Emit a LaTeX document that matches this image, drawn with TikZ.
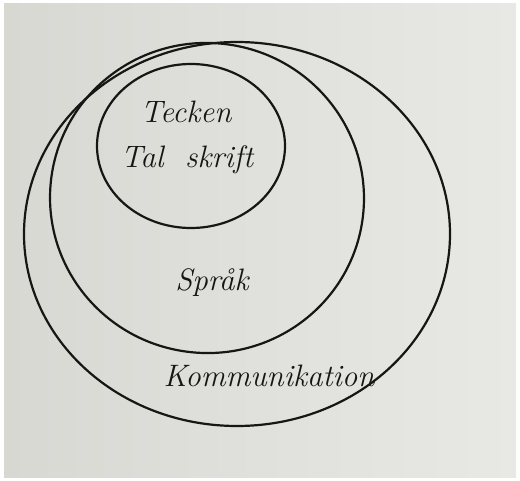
\documentclass[tikz,border=0pt]{standalone}
\usepackage{fontspec}
\usepackage{tikz}
\usetikzlibrary{
    calc,
    positioning,
    shapes.geometric
}
\definecolor{ink}{RGB}{22,22,20}
\definecolor{paperdark}{RGB}{216,216,211}
\definecolor{paperlight}{RGB}{232,232,229}
\tikzset{
    line cap=round,
    line join=round,
    ring/.style={
        ellipse,
        draw=ink,
        line width=2.2pt,
        inner sep=0pt
    },
    handtext/.style={
        font=\itshape\fontsize{31}{35}\selectfont,
        text=ink,
        anchor=base,
        inner sep=0pt
    }
}

\begin{document}
\begin{tikzpicture}[x=1pt, y=-1pt]

\useasboundingbox (0,0) rectangle (520,481);

% Paper
\fill[white] (0,0) rectangle (520,481);
\shade[left color=paperdark, right color=paperlight] (4,4) rectangle (516,477);

% Rings, outermost first
\node[ring, minimum width=426pt, minimum height=384pt] (kommring) at (237,234) {};
\node[ring, minimum width=314pt, minimum height=310pt, rotate=-8] (sprakring) at (207,198) {};
\node[ring, minimum width=188pt, minimum height=164pt] (teckenring) at (191,146) {};

% Labels
\node[handtext] (tecken) at (186,123) {Tecken};
\node[handtext] (talskrift) at (187,168) {Tal\ \ skrift};
\node[handtext] (sprak) at (212,291) {Språk};
\node[handtext] (komm) at (269,386) {Kommunikation};

\end{tikzpicture}
\end{document}
